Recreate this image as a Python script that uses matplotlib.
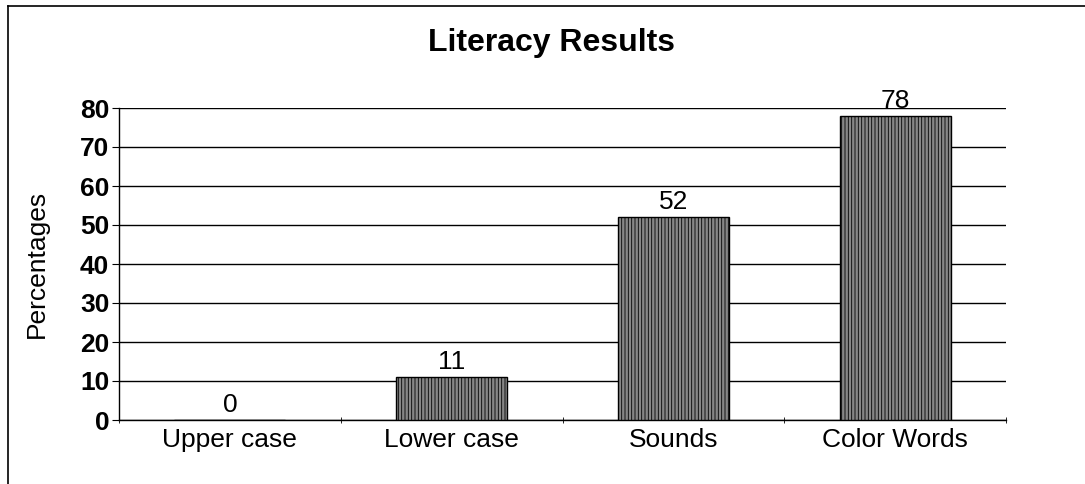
import matplotlib
matplotlib.use("Agg")
from matplotlib import pyplot as plt
from matplotlib.lines import Line2D

categories = ["Upper case", "Lower case", "Sounds", "Color Words"]
values = [0, 11, 52, 78]
yticks = [0, 10, 20, 30, 40, 50, 60, 70, 80]

plt.rcParams['font.family'] = ['Liberation Sans', 'DejaVu Sans']
plt.rcParams['hatch.linewidth'] = 0.6

W, H = 1085, 484
fig = plt.figure(figsize=(W / 100, H / 100), dpi=100)
ax = fig.add_axes([119 / W, 1 - 420 / H, (1006 - 119) / W, (420 - 108) / H])

# outer chart border: only the left and top edges survive in the scan
fig.add_artist(Line2D([8 / W, 8 / W], [0, 1 - 6 / H], transform=fig.transFigure,
                      color='black', linewidth=1.2))
fig.add_artist(Line2D([8 / W, 1], [1 - 6 / H, 1 - 6 / H], transform=fig.transFigure,
                      color='black', linewidth=1.2))

x = range(len(categories))
ax.bar(x, values, width=0.5, color='#868686', edgecolor='black',
       linewidth=1.0, hatch='|||||', zorder=3)

for xi, v in zip(x, values):
    ax.text(xi, v + 0.8, str(v), ha='center', va='bottom', fontsize=19, zorder=4)

ax.set_xlim(-0.5, len(categories) - 0.5)
ax.set_ylim(0, 80)
ax.set_yticks(yticks)
ax.set_yticklabels([str(t) for t in yticks], fontsize=19, fontweight='bold')
ax.set_xticks(x)
ax.set_xticklabels(categories, fontsize=19)
ax.set_xticks([i + 0.5 for i in range(-1, len(categories))], minor=True)
ax.tick_params(axis='x', which='major', length=0, pad=6)
ax.tick_params(axis='x', which='minor', length=5, direction='inout')
ax.tick_params(axis='y', length=5, direction='out', pad=2)

ax.yaxis.grid(True, color='black', linewidth=1.0, zorder=0)
ax.set_axisbelow(True)
for s in ['top', 'right']:
    ax.spines[s].set_visible(False)
ax.spines['left'].set_linewidth(1.0)
ax.spines['bottom'].set_linewidth(1.0)

ax.set_ylabel("Percentages", fontsize=19, labelpad=22)
fig.text(551 / W, 1 - 43 / H, "Literacy Results", ha='center', va='center',
         fontsize=23, fontweight='bold')

fig.savefig("out.png", dpi=100)
